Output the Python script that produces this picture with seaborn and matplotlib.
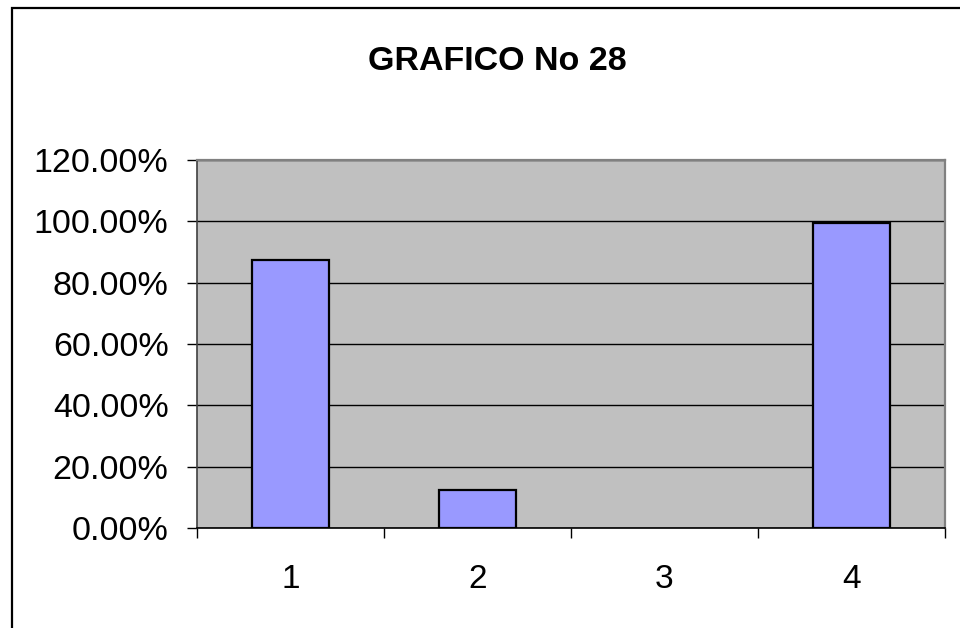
import matplotlib
matplotlib.use("Agg")
import matplotlib.pyplot as plt
import matplotlib.patches as mpatches
from matplotlib.ticker import FuncFormatter, FixedLocator
import seaborn as sns
import pandas as pd

categories = ["1", "2", "3", "4"]
values = [0.875, 0.125, 0.0, 0.994]
y_ticks = [0.0, 0.2, 0.4, 0.6, 0.8, 1.0, 1.2]
title = "GRAFICO No 28"

sns.set_style("white")
plt.rcParams["font.family"] = ["Liberation Sans", "DejaVu Sans"]
plt.rcParams["text.color"] = "black"

df = pd.DataFrame({"cat": categories, "val": values})

fig = plt.figure(figsize=(9.6, 6.28), dpi=100)
fig.patch.set_facecolor("white")
ax = fig.add_axes([197 / 960, 1 - 528 / 628, (945 - 197) / 960, (528 - 160) / 628])
ax.set_facecolor("#C0C0C0")

sns.barplot(data=df, x="cat", y="val", color="#9999FF", saturation=1,
            edgecolor="black", linewidth=1.6, width=0.41, ax=ax, zorder=3)

# a zero-height bar has no visible outline
for patch in ax.patches:
    if patch.get_height() == 0:
        patch.set_linewidth(0)

ax.set_xlim(-0.5, 3.5)
ax.set_ylim(0, 1.2)
ax.set_yticks(y_ticks)
ax.yaxis.set_major_formatter(FuncFormatter(lambda v, p: f"{v * 100:.2f}%"))
ax.grid(axis="y", color="black", linewidth=1.0, zorder=1)
ax.set_axisbelow(True)
ax.set_xlabel("")
ax.set_ylabel("")

# category boundaries carry the x tick marks
ax.xaxis.set_minor_locator(FixedLocator([-0.5, 0.5, 1.5, 2.5, 3.5]))
ax.tick_params(axis="x", which="major", length=0, pad=26, labelsize=24, colors="black")
ax.tick_params(axis="x", which="minor", length=7.5, width=1.0, direction="out", color="black", bottom=True)
ax.tick_params(axis="y", which="major", length=7.5, width=1.0, direction="out", pad=13,
               labelsize=24.5, colors="black", left=True)

for side in ("top", "right"):
    ax.spines[side].set_color("#808080")
    ax.spines[side].set_linewidth(1.6)
ax.spines["left"].set_color("#404040")
ax.spines["left"].set_linewidth(1.2)
ax.spines["bottom"].set_color("black")
ax.spines["bottom"].set_linewidth(1.2)
for s in ax.spines.values():
    s.set_visible(True)

fig.text(497 / 960, 1 - 61 / 628, title, ha="center", va="center",
         fontsize=24.5, fontweight="bold", color="black")

# chart area frame
frame = mpatches.Rectangle((12 / 960, -0.2), 1.2, (1 - 8 / 628) + 0.2,
                           transform=fig.transFigure, fill=False,
                           edgecolor="black", linewidth=1.6)
fig.patches.append(frame)

fig.savefig("out.png", dpi=100)
